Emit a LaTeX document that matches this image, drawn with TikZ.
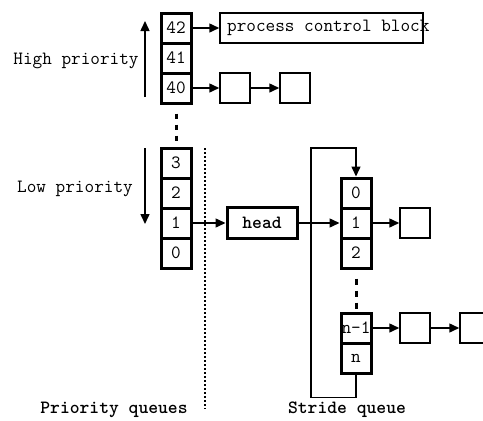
\documentclass[tikz,border=0pt]{standalone}
\usetikzlibrary{arrows.meta}
\tikzset{
  cell/.style={draw, line width=3pt, minimum width=30pt, minimum height=30pt, inner sep=0pt},
  elem/.style={draw, line width=1.5pt, minimum width=30pt, minimum height=30pt, inner sep=0pt},
  lnk/.style={line width=1.5pt, -{Triangle[length=10pt,width=9pt]}},
  thickdash/.style={line width=3pt, dash pattern=on 5pt off 6pt},
  lbl/.style={inner sep=0pt},
  bf/.style={font=\fontsize{18.7}{20}\selectfont\ttfamily\bfseries},
}
\begin{document}
\begin{tikzpicture}[x=1pt,y=-1pt,font=\fontsize{18.7}{20}\selectfont\ttfamily]
\useasboundingbox (0,0) rectangle (483,421);
% priority queue stacks
\node[cell] (p42) at (176,28) {42};
\node[cell] (p41) at (176,58) {41};
\node[cell] (p40) at (176,88) {40};
\node[cell] (p3) at (176,163) {3};
\node[cell] (p2) at (176,193) {2};
\node[cell] (p1) at (176,223) {1};
\node[cell] (p0) at (176,253) {0};
\draw[thickdash] (p40.south) ++(0,9) coordinate (d1) -- ++(0,28) coordinate (d2);
% priority labels and arrows
\coordinate (hb) at (145,97);
\coordinate (ht) at (145,21);
\draw[lnk] (hb) -- (ht);
\node[lbl] (hp) at (76,61) {High priority};
\coordinate (lt) at (145,148);
\coordinate (lb) at (145,224);
\draw[lnk] (lt) -- (lb);
\node[lbl] (lp) at (75,189) {Low priority};
% process control block
\node[draw, line width=1.5pt, minimum width=203pt, minimum height=30pt, inner sep=0pt] (pcb) at (321.5,28) {};
\node[lbl, anchor=west] (pcbtext) at (227,28) {process control block};
\draw[lnk] (p42.east) -- (pcb.west);
% list from 40
\node[elem] (a1) at (235,88) {};
\node[elem] (a2) at (295,88) {};
\draw[lnk] (p40.east) -- (a1.west);
\draw[lnk] (a1.east) -- (a2.west);
% separator
\coordinate (s1) at (205,148);
\coordinate (s2) at (205,409);
\draw[line width=1.5pt, dash pattern=on 2pt off 2pt] (s1) -- (s2);
% head
\node[draw, line width=3pt, minimum width=70pt, minimum height=31pt, inner sep=0pt, bf] (head) at (262,223) {head};
\draw[lnk] (p1.east) -- (head.west);
% stride queue
\node[cell] (s0) at (356,193) {0};
\node[cell] (s1c) at (356,223) {1};
\node[cell] (s2c) at (356,253) {2};
\node[cell] (sn1) at (356,328) {n-1};
\node[cell] (sn) at (356,358) {n};
\draw[thickdash, dash pattern=on 6pt off 6pt] (s2c.south) ++(0,9) -- ++(0,32);
\draw[lnk] (head.east) -- (s1c.west);
\draw[lnk] (sn.south) -- ++(0,23) -| (311,148) -| (s0.north);
\node[elem] (b1) at (415,223) {};
\draw[lnk] (s1c.east) -- (b1.west);
\node[elem] (c1) at (415,328) {};
\node[elem] (c2) at (475,328) {};
\draw[lnk] (sn1.east) -- (c1.west);
\draw[lnk] (c1.east) -- (c2.west);
% bottom labels
\node[lbl, bf] (pq) at (114,410) {Priority queues};
\node[lbl, bf] (sq) at (347,410) {Stride queue};
\end{tikzpicture}
\end{document}
